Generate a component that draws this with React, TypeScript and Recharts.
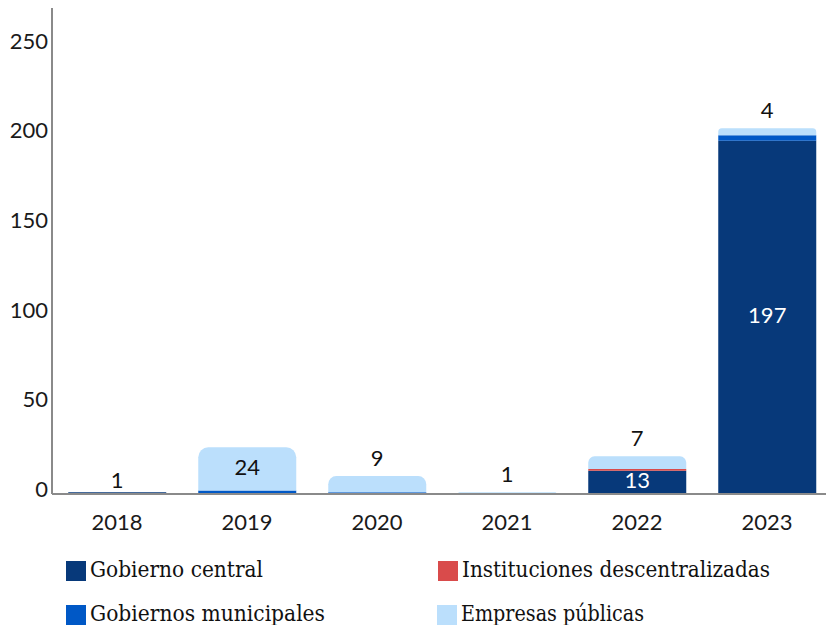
import React from 'react';
import { BarChart, Bar, XAxis, YAxis, LabelList } from 'recharts';

const years = ['2018', '2019', '2020', '2021', '2022', '2023'];
const gobiernoCentral = [1, 0, 0, 0, 13, 197];
const instituciones = [0, 0, 0, 0, 1, 0];
const municipales = [0, 2, 1, 0, 0, 3];
const empresas = [0, 24, 9, 1, 7, 4];
const yTicks = [0, 50, 100, 150, 200, 250];

const SERIES = [
  { key: 'central', name: 'Gobierno central', color: '#07397a' },
  { key: 'inst', name: 'Instituciones descentralizadas', color: '#d94b4b' },
  { key: 'muni', name: 'Gobiernos municipales', color: '#0058c6' },
  { key: 'emp', name: 'Empresas públicas', color: '#bbdffc' },
];

const data = years.map((year, i) => ({
  year,
  central: gobiernoCentral[i],
  inst: instituciones[i],
  muni: municipales[i],
  emp: empresas[i],
}));

const FONT = 'Lato';

// label above the bar when the segment is small, inside it when there is room
function makeLabel(color: string, insideMin: number, gap: number) {
  return (props: any) => {
    const { x, y, width, height, value } = props;
    if (!value) return null;
    const inside = height > insideMin;
    const cy = inside ? y + height / 2 - 2 : y - gap - 8;
    return (
      <text x={x + width / 2} y={cy} dy={8} textAnchor="middle" fontSize={22} fontFamily={FONT}
        fill={inside ? color : '#111'}>
        {value}
      </text>
    );
  };
}

const YTick = (props: any) => {
  const { x, y, payload } = props;
  return (
    <text x={x + 4} y={y} dy={3} textAnchor="end" fontSize={22} fontFamily={FONT} fill="#1a1a1a">
      {payload.value}
    </text>
  );
};

const XTick = (props: any) => {
  const { x, y, payload } = props;
  return (
    <text x={x} y={y} dy={28} textAnchor="middle" fontSize={22} fontFamily={FONT} fill="#1a1a1a">
      {payload.value}
    </text>
  );
};

const legendPos = [
  { x: 66, y: 561, w: 173 },
  { x: 438, y: 561, w: 308 },
  { x: 66, y: 605, w: 235 },
  { x: 437, y: 605, w: 183 },
];

function LegendBlock() {
  return (
    <svg width={826} height={625} style={{ position: 'absolute', left: 0, top: 0, pointerEvents: 'none' }}>
      {SERIES.map((s, i) => {
        const p = legendPos[i];
        return (
          <g key={s.key}>
            <rect x={p.x} y={p.y} width={20} height={20} fill={s.color} />
            <text x={p.x + 24} y={p.y + 16} fontSize={22} fontFamily='"DejaVu Serif", serif'
              textLength={p.w} lengthAdjust="spacingAndGlyphs" fill="#111">
              {s.name}
            </text>
          </g>
        );
      })}
    </svg>
  );
}

export default function App() {
  return (
    <div style={{ position: 'absolute', left: 0, top: 0, width: 826, height: 625, overflow: 'hidden', background: '#fff' }}>
      <BarChart width={832} height={625} data={data} barCategoryGap="12.5%"
        margin={{ top: 8, right: 0, left: 0, bottom: 0 }}>
        <XAxis dataKey="year" height={131} tickLine={false} axisLine={{ stroke: '#8a8a8a', strokeWidth: 2 }}
          tick={<XTick />} interval={0} />
        <YAxis width={52} domain={[0, 271]} ticks={yTicks} tickLine={false}
          axisLine={{ stroke: '#8a8a8a', strokeWidth: 2 }} tick={<YTick />} allowDataOverflow />
        <Bar dataKey="central" name={SERIES[0].name} stackId="a" fill={SERIES[0].color} isAnimationActive={false}>
          <LabelList dataKey="central" content={makeLabel('#fff', 15, 4)} />
        </Bar>
        <Bar dataKey="inst" name={SERIES[1].name} stackId="a" fill={SERIES[1].color} isAnimationActive={false} />
        <Bar dataKey="muni" name={SERIES[2].name} stackId="a" fill={SERIES[2].color} isAnimationActive={false} />
        <Bar dataKey="emp" name={SERIES[3].name} stackId="a" fill={SERIES[3].color} radius={[10, 10, 0, 0]}
          isAnimationActive={false}>
          <LabelList dataKey="emp" content={makeLabel('#111', 30, 10)} />
        </Bar>
      </BarChart>
      <LegendBlock />
    </div>
  );
}
